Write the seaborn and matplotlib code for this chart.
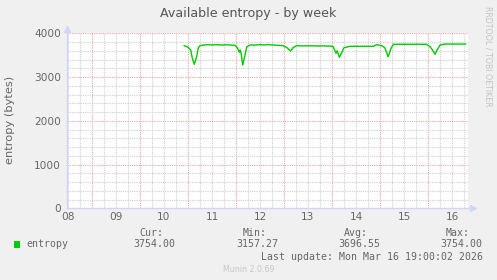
import matplotlib
matplotlib.use("Agg")
import matplotlib.pyplot as plt
import seaborn as sns
import pandas as pd
import numpy as np

# ---- data (day of March as decimal, entropy bytes) ----
days = [10.917, 10.96, 11.006, 11.056, 11.09, 11.131, 11.181, 11.215, 11.25, 11.31,
        11.40, 11.50, 11.60, 11.70, 11.80, 11.90, 11.98, 12.027, 12.069, 12.085,
        12.104, 12.14, 12.1875, 12.223, 12.292, 12.40, 12.50, 12.60, 12.70, 12.80,
        12.90, 12.985, 13.06, 13.139, 13.19, 13.26, 13.40, 13.55, 13.70, 13.85,
        14.02, 14.083, 14.11, 14.152, 14.20, 14.25, 14.375, 14.50, 14.70, 14.86,
        14.93, 15.035, 15.10, 15.17, 15.23, 15.28, 15.50, 15.75, 15.97, 16.04,
        16.10, 16.146, 16.19, 16.25, 16.35, 16.79]
entropy = [3717, 3700, 3680, 3618, 3429, 3291, 3465, 3671, 3717, 3730,
           3740, 3735, 3740, 3733, 3738, 3730, 3725, 3671, 3566, 3620,
           3560, 3275, 3504, 3687, 3733, 3730, 3740, 3735, 3740, 3730,
           3725, 3717, 3671, 3595, 3671, 3717, 3712, 3715, 3710, 3712,
           3703, 3543, 3600, 3451, 3554, 3671, 3703, 3703, 3703, 3703,
           3740, 3717, 3671, 3465, 3657, 3749, 3749, 3749, 3749, 3695,
           3610, 3520, 3618, 3733, 3754, 3754]

day_labels = ["08", "09", "10", "11", "12", "13", "14", "15", "16"]
day_label_pos = [8.5, 9.5, 10.5, 11.5, 12.5, 13.5, 14.5, 15.5, 16.5]
y_ticks = [0, 1000, 2000, 3000, 4000]

legend_name = "entropy"
stat_heads = ["Cur:", "Min:", "Avg:", "Max:"]
stat_vals = ["3754.00", "3157.27", "3696.55", "3754.00"]
title = "Available entropy - by week"
ylabel = "entropy (bytes)"
last_update = "Last update: Mon Mar 16 19:00:02 2026"
footer = "Munin 2.0.69"
side_text = "RRDTOOL / TOBI OETIKER"

# ---- style ----
sns.set_style("white")
plt.rcParams["font.family"] = ["DejaVu Sans"]
BACK = "#F0F0F0"
FONT = "#666666"
AXIS = "#CFD6F8"
LINE = "#00CC00"
MINOR = "#CFCFCF"
MAJOR = "#E6A6A6"

W, H = 497, 280
fig = plt.figure(figsize=(W / 100, H / 100), dpi=100, facecolor=BACK)

x0, x1 = 66.7, 468.3
ytop, ybot = 33.3, 208.3
ax = fig.add_axes([x0 / W, (H - ybot) / H, (x1 - x0) / W, (ybot - ytop) / H])
ax.set_facecolor("white")

xmin = 8.5 + (x0 - 68) / 48
xmax = 8.5 + (x1 - 68) / 48
ax.set_xlim(xmin, xmax)
ax.set_ylim(0, 4000)

# grid
dash = (0, (1, 1))
for q in np.arange(np.ceil(xmin * 4) / 4, xmax, 0.25):
    if abs(q - round(q)) < 1e-6:
        ax.axvline(q, color=MAJOR, lw=0.8, ls=dash, zorder=1)
    else:
        ax.axvline(q, color=MINOR, lw=0.8, ls=dash, zorder=1)
for v in range(200, 4001, 200):
    if v % 1000 == 0:
        ax.axhline(v, color=MAJOR, lw=0.8, ls=dash, zorder=1)
    else:
        ax.axhline(v, color=MINOR, lw=0.8, ls=dash, zorder=1)

df = pd.DataFrame({"day": days, "entropy": entropy})
sns.lineplot(data=df, x="day", y="entropy", color=LINE, lw=1.0, ax=ax, zorder=3)

ax.set_xticks(day_label_pos)
ax.set_xticklabels(day_labels)
ax.set_yticks(y_ticks)
ax.set_yticklabels([str(v) for v in y_ticks])
ax.tick_params(axis="both", length=0, labelsize=7.6, colors=FONT, pad=4)
ax.tick_params(axis="x", pad=3)
ax.set_xlabel("")
ax.set_ylabel("")

for s in ["top", "right"]:
    ax.spines[s].set_visible(False)
for s in ["left", "bottom"]:
    ax.spines[s].set_color(AXIS)
    ax.spines[s].set_linewidth(1.0)

# axis arrows
ax.plot([1.0, 1.008], [0, 0], color=AXIS, lw=1, transform=ax.transAxes, clip_on=False)
ax.plot([1.012], [0], marker=">", ms=4, color=AXIS, transform=ax.transAxes, clip_on=False)
ax.plot([0, 0], [1.0, 1.02], color=AXIS, lw=1, transform=ax.transAxes, clip_on=False)
ax.plot([0], [1.025], marker="^", ms=4, color=AXIS, transform=ax.transAxes, clip_on=False)

# texts
def fx(px):
    return px / W

def fy(py):
    return 1 - py / H

fig.text(fx(248), fy(14), title, ha="center", va="center", fontsize=9.1, color="#555555")
fig.text(fx(10), fy(120), ylabel, ha="center", va="center", rotation=90, fontsize=8.2, color=FONT)
fig.text(fx(488), fy(56), side_text, ha="center", va="center", rotation=270, fontsize=5.7, color="#C4C4C4")

mono = "DejaVu Sans Mono"
head_right = [163.3, 266.7, 368.3, 470.0]
val_right = [175.7, 278.3, 380.0, 482.7]
for h, hx in zip(stat_heads, head_right):
    fig.text(fx(hx), fy(232.7), h, ha="right", va="center", family=mono, fontsize=7.1, color=FONT)
for v, vx in zip(stat_vals, val_right):
    fig.text(fx(vx), fy(244.3), v, ha="right", va="center", family=mono, fontsize=7.1, color=FONT)
fig.patches.append(plt.Rectangle((fx(13.5), fy(247.5)), 6.5 / W, 6.5 / H, transform=fig.transFigure,
                                 facecolor=LINE, edgecolor="none"))
fig.text(fx(26), fy(244.3), legend_name, ha="left", va="center", family=mono, fontsize=7.1, color=FONT)
fig.text(fx(482.7), fy(256.7), last_update, ha="right", va="center", family=mono, fontsize=7.1, color=FONT)
fig.text(fx(249), fy(269.3), footer, ha="center", va="center", fontsize=5.7, color="#C8C8C8")

fig.savefig("out.png", dpi=100, facecolor=BACK)
